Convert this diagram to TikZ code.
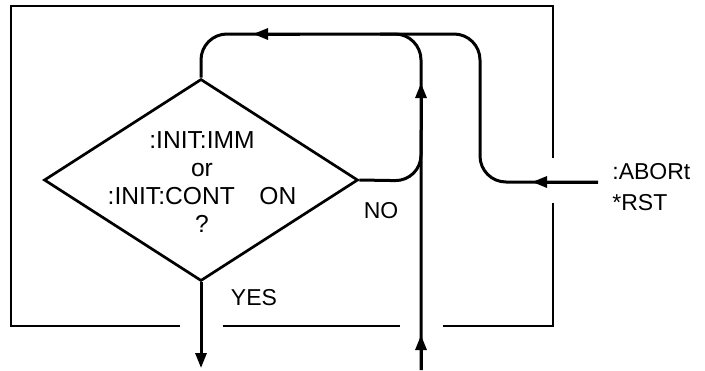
\documentclass[tikz,border=0pt]{standalone}
\usepackage{fontspec}
\setmainfont{Liberation Sans}
\usetikzlibrary{shapes.geometric,arrows.meta}

\begin{document}
\begin{tikzpicture}[x=0.5pt,y=-0.5pt,
    flow/.style={line width=1.5pt},
    tip/.style={line width=1.5pt,-{Triangle[length=7.5pt,width=5.5pt]}},
    frame/.style={line width=0.8pt},
    lbl/.style={font=\fontsize{11.5}{14}\selectfont,inner sep=0pt}]
                      \useasboundingbox (0,0) rectangle (705,370);
                      % frame round the trigger block
                      \draw[frame] (553,158) -- (553,6) -- (11,6) -- (11,326) -- (180,326);
                      \draw[frame] (223,326) -- (400,326);
                      \draw[frame] (443,326) -- (553,326) -- (553,203);
                      \node[draw,diamond,line width=1.35pt,minimum width=157pt,minimum height=101pt,inner sep=0pt] (Dec) at (201,180) {};
                      \node[lbl,font=\fontsize{12.3}{14}\selectfont,align=center] (Ask) at (202,182) {:INIT:IMM\\or\\:INIT:CONT\hspace{1em}ON\\?};
                      \node[lbl] (Yes) at (254,298) {YES};
                      \node[lbl] (No) at (381,211) {NO};
                      \node[lbl,align=left,anchor=west] (Cmd) at (612,187) {:ABORt\\[1.5pt]*RST};
                      \coordinate (Out) at (201,368);
                      \coordinate (In) at (421,370);
                      \coordinate (TopR) at (421,34);
                      \coordinate (TopL) at (201,34);
                      \coordinate (Join) at (421,181);
                      \coordinate (JoinUp) at (421,130);
                      \coordinate (Abort) at (598,182);
                      \coordinate (AbUp) at (480,182);
                      \coordinate (AbTop) at (480,34);
                      \coordinate (AbEnd) at (380,34);
                      \coordinate (TipIn) at (421,335);
                      \coordinate (TipUp) at (421,83);
                      \coordinate (TipTop) at (253,34);
                      \coordinate (TipAb) at (532,182);
                      \coordinate (TopMid) at (300,34);
                      \draw[flow,rounded corners=13pt] (In) -- (TopR) -- (TopL) -- (Dec.north);
                      \draw[flow,rounded corners=13pt] (Dec.east) -- (Join) -- (JoinUp);
                      \draw[flow,rounded corners=13pt] (Abort) -- (AbUp) -- (AbTop) -- (AbEnd);
                      % arrow heads
                      \draw[tip] (In) -- (TipIn);
                      \draw[tip] (JoinUp) -- (TipUp);
                      \draw[tip] (TopMid) -- (TipTop);
                      \draw[tip] (Abort) -- (TipAb);
                      \draw[tip] (Dec.south) -- (Out);
                    \end{tikzpicture}
\end{document}
